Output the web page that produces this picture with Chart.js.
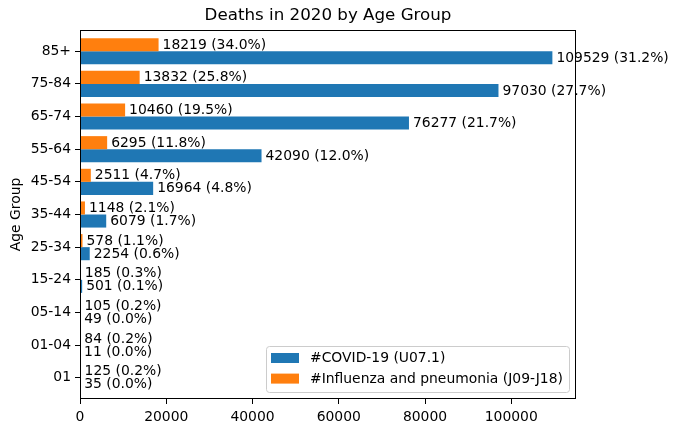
<!DOCTYPE html>
<html>
  <head>
    <title>Deaths in 2020 by Age Group</title>
    <style>
      html, body { margin: 0; padding: 0; background: #fff; }
      #wrap { width: 679px; height: 433px; }
    </style>
  </head>
  <body>
    <div id="wrap"><canvas id="myChart"></canvas></div>

    <script src="https://cdn.jsdelivr.net/npm/chart.js@4.4.1/dist/chart.umd.min.js"></script>
    <script>
      // data, bottom (index 0) to top
      const ageGroups = ["01", "01-04", "05-14", "15-24", "25-34", "35-44", "45-54", "55-64", "65-74", "75-84", "85+"];
      const covidDeaths = [35, 11, 49, 501, 2254, 6079, 16964, 42090, 76277, 97030, 109529];
      const fluDeaths = [125, 84, 105, 185, 578, 1148, 2511, 6295, 10460, 13832, 18219];
      const xTicks = [0, 20000, 40000, 60000, 80000, 100000];
      const xMax = 115005;

      const covidLabel = "#COVID-19 (U07.1)";
      const fluLabel = "#Influenza and pneumonia (J09-J18)";
      const blue = "#1f77b4";
      const orange = "#ff7f0e";
      const FONT = "DejaVu Sans";
      const FS = 13.9;

      const toPoints = (arr) => arr.map((v, i) => ({ x: v, y: i }));

      // bar end labels: "value (pct%)"
      const barLabels = {
        id: "barLabels",
        afterDatasetsDraw(chart) {
          const ctx = chart.ctx;
          ctx.save();
          ctx.font = FS + "px '" + FONT + "'";
          ctx.fillStyle = "#000";
          ctx.textBaseline = "middle";
          ctx.textAlign = "left";
          chart.data.datasets.forEach((ds, d) => {
            const total = ds.data.reduce((s, p) => s + p.x, 0);
            chart.getDatasetMeta(d).data.forEach((bar, i) => {
              const v = ds.data[i].x;
              const pct = ((v / total) * 100).toFixed(1);
              ctx.fillText(v + " (" + pct + "%)", bar.x + 4, bar.y + 0.5);
            });
          });
          ctx.restore();
        },
      };

      // frame, title and legend in matplotlib style
      const decor = {
        id: "decor",
        afterDraw(chart) {
          const ctx = chart.ctx;
          const a = chart.chartArea;
          ctx.save();
          ctx.strokeStyle = "#000";
          ctx.lineWidth = 1;
          ctx.strokeRect(Math.round(a.left) + 0.5, Math.round(a.top) + 0.5,
                         Math.round(a.right - a.left) - 1, Math.round(a.bottom - a.top) - 1);

          // title
          ctx.fillStyle = "#000";
          ctx.font = "16.7px '" + FONT + "'";
          ctx.textAlign = "center";
          ctx.textBaseline = "middle";
          ctx.fillText("Deaths in 2020 by Age Group", (a.left + a.right) / 2, 16);

          // legend box (lower right)
          const w = 303, h = 46;
          const x = a.right - 7 - w, y = a.bottom - 7 - h;
          ctx.beginPath();
          ctx.roundRect(x + 0.5, y + 0.5, w, h, 3);
          ctx.fillStyle = "rgba(255,255,255,0.8)";
          ctx.fill();
          ctx.strokeStyle = "#cccccc";
          ctx.stroke();

          const items = [[covidLabel, blue], [fluLabel, orange]];
          ctx.font = FS + "px '" + FONT + "'";
          ctx.textAlign = "left";
          items.forEach(([label, color], k) => {
            const cy = y + 12 + k * 20.6;
            ctx.fillStyle = color;
            ctx.fillRect(x + 5, cy - 5, 28, 10);
            ctx.fillStyle = "#000";
            ctx.fillText(label, x + 44, cy + 0.5);
          });
          ctx.restore();
        },
      };

      const ctx = document.getElementById("myChart").getContext("2d");
      const myChart = new Chart(ctx, {
        type: "bar",
        data: {
          datasets: [
            { label: fluLabel, data: toPoints(fluDeaths), backgroundColor: orange },
            { label: covidLabel, data: toPoints(covidDeaths), backgroundColor: blue },
          ],
        },
        options: {
          indexAxis: "y",
          responsive: true,
          maintainAspectRatio: false,
          animation: false,
          datasets: { bar: { categoryPercentage: 0.8, barPercentage: 1.0 } },
          layout: { padding: { top: 30, right: 103, bottom: 0, left: 0 } },
          plugins: {
            legend: { display: false },
            title: { display: false },
            tooltip: { enabled: false },
          },
          scales: {
            x: {
              type: "linear",
              min: 0,
              max: xMax,
              afterBuildTicks: (scale) => { scale.ticks = xTicks.map((v) => ({ value: v })); },
              afterFit: (scale) => { scale.height = 34; },
              ticks: {
                color: "#000",
                font: { family: FONT, size: FS },
                padding: 5,
                maxRotation: 0,
                callback: (v) => String(v),
              },
              grid: { drawOnChartArea: false, drawTicks: true, tickLength: 5, color: "#000", lineWidth: 1 },
              border: { display: false },
            },
            y: {
              type: "linear",
              min: -0.65,
              max: 10.65,
              offset: false,
              afterBuildTicks: (scale) => { scale.ticks = ageGroups.map((_, i) => ({ value: i })); },
              afterFit: (scale) => { scale.width = 80; },
              ticks: {
                color: "#000",
                font: { family: FONT, size: FS },
                padding: 4,
                callback: (v) => ageGroups[v],
              },
              grid: { offset: false, drawOnChartArea: false, drawTicks: true, tickLength: 5, color: "#000", lineWidth: 1 },
              border: { display: false },
              title: {
                display: true,
                text: "Age Group",
                color: "#000",
                font: { family: FONT, size: FS },
                padding: { top: 8.5, bottom: 4 },
              },
            },
          },
        },
        plugins: [barLabels, decor],
      });
    </script>
  </body>
</html>
